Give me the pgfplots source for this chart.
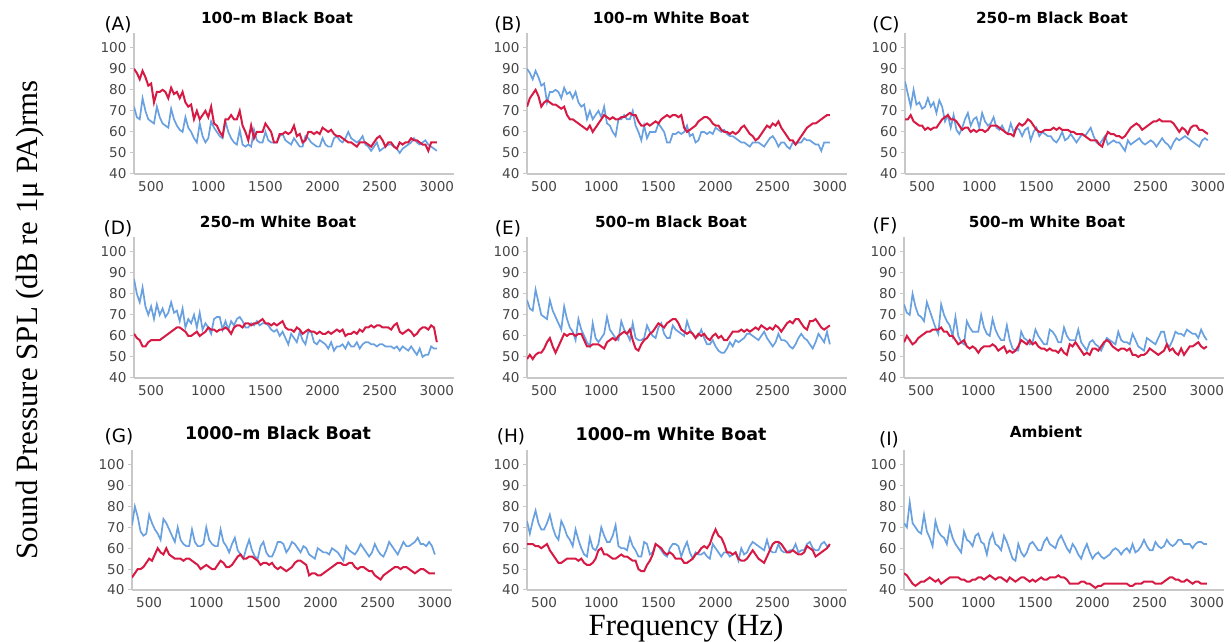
\documentclass[border=0pt]{standalone}
\usepackage{fontspec}
\setmainfont{Liberation Serif}
\newfontfamily\dejavu{DejaVu Sans}
\usepackage{pgfplots}
\usepackage{pgfplotstable}
\pgfplotsset{compat=1.18}

\definecolor{lineBlue}{RGB}{104,160,224}
\definecolor{lineRed}{RGB}{214,26,68}
\definecolor{axisGray}{RGB}{200,200,200}
\definecolor{labelGray}{RGB}{70,70,70}

\newcommand{\ttl}{\dejavu\bfseries\fontsize{15.3}{16}\selectfont}
\newcommand{\ttlbig}{\dejavu\bfseries\fontsize{17.5}{18}\selectfont}
\newcommand{\plab}{\dejavu\fontsize{18.5}{19}\selectfont}

\pgfplotsset{
    panel/.style={
        scale only axis, width=320bp, height=141bp, anchor=south west,
        xmin=350, xmax=3150, ymin=40, ymax=107,
        axis x line=bottom, axis y line=left,
        axis line style={draw=axisGray, line width=1.3bp, -},
        xtick={500,1000,1500,2000,2500,3000},
        ytick={40,50,60,70,80,90,100},
        xtick style={draw=none},
        ytick style={draw=axisGray, line width=1bp},
        major tick length=4bp, tick align=outside,
        tick label style={font=\dejavu\fontsize{13.6}{14}\selectfont, text=labelGray},
        /pgf/number format/assume math mode=true,
        /pgf/number format/1000 sep={},
        scaled ticks=false,
    },
    blueline/.style={lineBlue, line width=1.7bp},
    redline/.style={lineRed, line width=2bp},
}

% panel A: 100-m black boat
\pgfplotstableread{
f b r
350 72 90
375 67 88
400 66 85
425 76 89
450 70 86
475 66 82
500 65 83
525 64 74
550 72 79
575 67 79
600 64 80
625 63 79
650 62 76
675 71 81
700 66 78
725 63 79
750 61 76
775 60 79
800 67 74
825 62 72
850 60 73
875 57 66
900 55 70
925 64 66
950 58 68
975 55 70
1000 57 67
1025 65 72
1050 62 64
1075 60 63
1100 58 60
1125 57 58
1150 65 66
1175 60 66
1200 57 68
1225 55 66
1250 54 66
1275 61 70
1300 54 63
1325 53 60
1350 54 56
1375 53 63
1400 61 57
1425 56 60
1450 55 60
1475 55 60
1500 60 64
1525 56 62
1550 55 60
1575 55 55
1600 55 55
1625 58 59
1650 59 59
1675 56 60
1700 55 59
1725 54 60
1750 57 63
1775 55 58
1800 53 59
1825 53 55
1850 58 56
1875 57 60
1900 55 60
1925 54 59
1950 53 60
1975 53 59
2000 57 62
2025 54 61
2050 53 60
2075 53 61
2100 57 59
2125 58 58
2150 56 58
2175 55 57
2200 57 56
2225 60 55
2250 57 55
2275 56 54
2300 55 53
2325 56 55
2350 58 55
2375 54 55
2400 53 54
2425 51 53
2450 53 55
2475 55 57
2500 51 58
2525 52 56
2550 53 53
2575 54 55
2600 54 55
2625 53 53
2650 52 52
2675 50 55
2700 52 54
2725 53 55
2750 54 55
2775 55 57
2800 57 56
2825 55 56
2850 54 55
2875 55 54
2900 56 54
2925 54 51
2950 53 55
2975 52 55
3000 51 55
}\tA

% panel B: 100-m white boat
\pgfplotstableread{
f b r
350 90 72
375 88 76
400 85 78
425 89 80
450 86 77
475 82 72
500 83 74
525 74 75
550 79 74
575 79 73
600 80 73
625 79 72
650 76 71
675 81 72
700 78 68
725 79 66
750 76 66
775 79 65
800 74 64
825 72 63
850 73 62
875 66 61
900 70 63
925 66 60
950 68 62
975 70 64
1000 67 66
1025 72 68
1050 64 67
1075 63 66
1100 60 67
1125 58 66
1150 66 66
1175 66 67
1200 68 67
1225 66 68
1250 66 69
1275 70 68
1300 63 68
1325 60 65
1350 56 63
1375 63 63
1400 57 64
1425 60 63
1450 60 64
1475 60 65
1500 64 64
1525 62 66
1550 60 67
1575 55 68
1600 55 67
1625 59 68
1650 59 68
1675 60 67
1700 59 68
1725 60 62
1750 63 60
1775 58 61
1800 59 62
1825 55 63
1850 56 65
1875 60 66
1900 60 67
1925 59 67
1950 60 66
1975 59 64
2000 62 63
2025 61 63
2050 60 61
2075 61 60
2100 59 60
2125 58 59
2150 58 60
2175 57 59
2200 56 60
2225 55 62
2250 55 63
2275 54 61
2300 53 59
2325 55 58
2350 55 56
2375 55 57
2400 54 59
2425 53 61
2450 55 63
2475 57 62
2500 58 64
2525 56 63
2550 53 65
2575 55 62
2600 55 60
2625 53 58
2650 52 56
2675 55 56
2700 54 54
2725 55 56
2750 55 58
2775 57 60
2800 56 62
2825 56 63
2850 55 64
2875 54 64
2900 54 65
2925 51 66
2950 55 67
2975 55 68
3000 55 68
}\tB

% panel C: 250-m black boat
\pgfplotstableread{
f b r
350 84 66
375 78 66
400 72 68
425 80 65
450 73 64
475 74 63
500 71 63
525 72 61
550 76 62
575 72 61
600 74 62
625 69 62
650 75 64
675 72 66
700 65 67
725 68 68
750 62 66
775 68 66
800 61 65
825 59 63
850 62 61
875 66 62
900 69 62
925 63 60
950 66 61
975 67 60
1000 62 61
1025 69 61
1050 65 60
1075 63 61
1100 64 63
1125 67 63
1150 62 63
1175 61 62
1200 63 61
1225 60 60
1250 59 59
1275 64 59
1300 60 58
1325 62 62
1350 61 64
1375 58 63
1400 61 64
1425 62 66
1450 56 65
1475 60 63
1500 62 61
1525 58 60
1550 60 60
1575 59 61
1600 58 61
1625 58 61
1650 56 62
1675 55 61
1700 57 62
1725 60 61
1750 56 61
1775 57 61
1800 59 60
1825 57 60
1850 55 59
1875 57 59
1900 59 59
1925 58 58
1950 60 57
1975 62 56
2000 58 56
2025 55 56
2050 54 54
2075 56 53
2100 58 57
2125 54 60
2150 55 59
2175 56 59
2200 55 58
2225 55 58
2250 53 57
2275 51 58
2300 56 60
2325 54 62
2350 55 63
2375 56 64
2400 57 63
2425 55 61
2450 54 62
2475 55 63
2500 56 64
2525 55 65
2550 53 65
2575 55 66
2600 57 65
2625 55 65
2650 54 65
2675 52 65
2700 55 64
2725 57 62
2750 56 60
2775 57 62
2800 58 61
2825 57 59
2850 56 62
2875 55 63
2900 54 63
2925 53 61
2950 56 61
2975 57 60
3000 56 59
}\tC

% panel D: 250-m white boat
\pgfplotstableread{
f b r
350 87 61
375 80 59
400 76 58
425 83 55
450 74 55
475 70 57
500 74 58
525 68 58
550 75 58
575 70 58
600 73 59
625 69 60
650 71 61
675 76 62
700 71 63
725 72 64
750 67 64
775 73 63
800 64 62
825 68 60
850 66 60
875 70 61
900 64 62
925 71 60
950 63 61
975 66 62
1000 64 64
1025 61 63
1050 68 63
1075 69 62
1100 69 63
1125 63 63
1150 67 64
1175 63 63
1200 67 61
1225 65 64
1250 68 65
1275 69 65
1300 67 64
1325 64 66
1350 64 66
1375 66 65
1400 65 66
1425 67 66
1450 65 67
1475 66 68
1500 66 66
1525 65 66
1550 63 65
1575 62 66
1600 63 65
1625 60 66
1650 62 67
1675 59 64
1700 56 63
1725 61 63
1750 59 62
1775 57 64
1800 62 63
1825 58 61
1850 56 62
1875 62 63
1900 62 62
1925 57 62
1950 56 61
1975 58 62
2000 57 61
2025 56 61
2050 54 62
2075 57 61
2100 53 62
2125 55 63
2150 55 62
2175 56 63
2200 54 60
2225 57 61
2250 55 61
2275 55 62
2300 57 61
2325 54 63
2350 56 62
2375 57 64
2400 57 64
2425 56 65
2450 56 64
2475 55 65
2500 56 65
2525 56 64
2550 55 64
2575 55 64
2600 55 63
2625 54 65
2650 55 66
2675 53 62
2700 55 61
2725 54 62
2750 53 63
2775 55 62
2800 53 60
2825 51 61
2850 54 63
2875 50 64
2900 51 64
2925 51 63
2950 55 65
2975 54 64
3000 54 57
}\tD

% panel E: 500-m black boat
\pgfplotstableread{
f b r
350 77 49
375 73 51
400 72 49
425 82 51
450 76 52
475 70 52
500 69 54
525 68 57
550 77 59
575 72 55
600 69 52
625 66 55
650 63 58
675 74 61
700 68 60
725 64 61
750 62 61
775 58 60
800 68 61
825 63 61
850 60 58
875 57 55
900 55 55
925 66 56
950 59 56
975 57 56
1000 59 55
1025 61 54
1050 69 57
1075 63 58
1100 61 59
1125 59 58
1150 58 60
1175 67 61
1200 63 62
1225 61 61
1250 58 63
1275 66 58
1300 59 54
1325 58 53
1350 58 56
1375 59 58
1400 65 59
1425 62 61
1450 60 62
1475 59 64
1500 64 66
1525 66 65
1550 61 64
1575 59 66
1600 59 67
1625 65 68
1650 63 68
1675 62 66
1700 61 63
1725 60 62
1750 67 61
1775 63 62
1800 61 61
1825 59 59
1850 60 61
1875 63 60
1900 59 61
1925 56 59
1950 56 58
1975 58 60
2000 55 61
2025 53 59
2050 52 60
2075 52 58
2100 54 58
2125 57 60
2150 55 62
2175 58 62
2200 57 62
2225 58 63
2250 59 62
2275 61 63
2300 61 62
2325 60 63
2350 59 64
2375 58 63
2400 60 65
2425 62 64
2450 59 63
2475 57 64
2500 55 63
2525 57 65
2550 61 64
2575 58 62
2600 58 64
2625 57 66
2650 55 67
2675 54 66
2700 56 68
2725 59 68
2750 61 66
2775 59 64
2800 58 63
2825 56 67
2850 54 67
2875 57 68
2900 61 66
2925 59 64
2950 57 63
2975 62 64
3000 56 65
}\tE

% panel F: 500-m white boat
\pgfplotstableread{
f b r
350 75 57
375 71 60
400 70 58
425 80 56
450 74 57
475 70 59
500 69 60
525 67 61
550 76 62
575 72 62
600 68 63
625 64 63
650 61 63
675 75 64
700 70 62
725 67 62
750 65 60
775 60 60
800 69 58
825 60 56
850 57 57
875 56 58
900 67 55
925 64 54
950 62 55
975 62 54
1000 62 52
1025 70 54
1050 64 55
1075 61 55
1100 60 55
1125 68 56
1150 63 55
1175 60 53
1200 58 54
1225 58 55
1250 65 52
1275 58 53
1300 54 52
1325 53 53
1350 53 55
1375 62 58
1400 59 57
1425 58 56
1450 56 58
1475 57 56
1500 63 57
1525 60 55
1550 58 54
1575 56 54
1600 56 53
1625 63 54
1650 62 53
1675 60 53
1700 57 52
1725 57 54
1750 64 52
1775 60 51
1800 58 56
1825 58 55
1850 58 57
1875 63 55
1900 57 53
1925 55 51
1950 53 52
1975 57 51
2000 58 54
2025 56 54
2050 55 53
2075 53 55
2100 56 57
2125 59 58
2150 58 57
2175 57 55
2200 56 54
2225 62 53
2250 58 54
2275 57 54
2300 57 53
2325 56 54
2350 61 51
2375 58 51
2400 55 50
2425 54 51
2450 53 51
2475 59 52
2500 58 54
2525 57 53
2550 56 52
2575 59 51
2600 62 52
2625 62 53
2650 56 56
2675 55 53
2700 58 54
2725 62 52
2750 61 51
2775 61 54
2800 60 51
2825 63 53
2850 62 55
2875 61 55
2900 61 56
2925 59 57
2950 63 55
2975 60 54
3000 58 55
}\tF

% panel G: 1000-m black boat
\pgfplotstableread{
f b r
350 71 46
375 80 48
400 75 50
425 68 50
450 66 51
475 67 53
500 76 55
525 72 54
550 69 57
575 67 60
600 64 58
625 74 57
650 72 60
675 69 57
700 66 56
725 63 55
750 70 55
775 64 55
800 62 54
825 61 55
850 61 55
875 69 54
900 63 53
925 61 52
950 61 50
975 62 51
1000 70 52
1025 64 51
1050 62 50
1075 61 50
1100 61 52
1125 69 54
1150 63 53
1175 61 51
1200 58 51
1225 62 52
1250 65 54
1275 59 56
1300 57 57
1325 55 55
1350 60 55
1375 64 56
1400 59 56
1425 56 55
1450 55 54
1475 61 52
1500 63 53
1525 58 53
1550 56 52
1575 56 53
1600 59 51
1625 63 50
1650 63 51
1675 62 50
1700 58 49
1725 60 50
1750 63 51
1775 62 53
1800 60 54
1825 58 54
1850 61 53
1875 60 52
1900 57 47
1925 56 48
1950 55 48
1975 60 47
2000 59 47
2025 58 48
2050 58 49
2075 57 50
2100 60 51
2125 59 52
2150 58 53
2175 56 53
2200 54 52
2225 61 52
2250 59 53
2275 58 53
2300 57 51
2325 59 50
2350 62 51
2375 60 51
2400 58 50
2425 56 49
2450 58 49
2475 62 47
2500 59 46
2525 57 45
2550 56 47
2575 59 48
2600 63 49
2625 61 50
2650 59 51
2675 57 51
2700 60 50
2725 63 51
2750 61 51
2775 61 50
2800 62 49
2825 63 48
2850 65 49
2875 62 50
2900 62 50
2925 61 49
2950 63 48
2975 61 48
3000 57 48
}\tG

% panel H: 1000-m white boat
\pgfplotstableread{
f b r
350 73 62
375 67 62
400 73 62
425 78 61
450 72 61
475 69 60
500 69 61
525 72 62
550 76 59
575 70 57
600 66 55
625 64 53
650 73 53
675 70 54
700 66 55
725 64 55
750 61 55
775 69 55
800 64 54
825 60 55
850 57 53
875 56 52
900 65 52
925 60 53
950 59 55
975 62 59
1000 70 60
1025 66 57
1050 63 57
1075 63 56
1100 66 55
1125 71 55
1150 61 56
1175 60 57
1200 60 56
1225 59 56
1250 65 55
1275 61 54
1300 59 54
1325 56 50
1350 56 49
1375 63 49
1400 62 52
1425 57 54
1450 58 57
1475 62 62
1500 61 61
1525 59 60
1550 57 58
1575 56 57
1600 60 58
1625 62 57
1650 62 55
1675 61 55
1700 56 55
1725 60 53
1750 63 53
1775 58 54
1800 55 55
1825 58 57
1850 57 58
1875 57 60
1900 58 61
1925 56 60
1950 55 62
1975 62 66
2000 60 69
2025 58 66
2050 56 65
2075 58 62
2100 58 58
2125 56 58
2150 57 57
2175 58 58
2200 54 55
2225 60 54
2250 57 54
2275 58 55
2300 61 57
2325 63 59
2350 62 57
2375 61 55
2400 60 54
2425 59 53
2450 64 56
2475 59 59
2500 58 62
2525 58 63
2550 62 63
2575 59 62
2600 58 60
2625 58 58
2650 59 58
2675 59 59
2700 62 58
2725 58 57
2750 59 57
2775 59 58
2800 62 61
2825 63 60
2850 60 59
2875 59 56
2900 59 57
2925 62 58
2950 63 59
2975 61 60
3000 61 62
}\tH

% panel I: ambient
\pgfplotstableread{
f b r
350 72 48
375 70 47
400 82 45
425 72 43
450 70 42
475 68 43
500 67 44
525 76 44
550 68 45
575 65 46
600 61 45
625 73 44
650 68 45
675 66 43
700 65 44
725 62 45
750 70 46
775 65 46
800 62 46
825 60 46
850 58 45
875 68 45
900 64 44
925 63 44
950 61 45
975 66 45
1000 67 46
1025 63 46
1050 62 45
1075 57 46
1100 64 47
1125 67 46
1150 62 45
1175 61 46
1200 59 46
1225 66 45
1250 63 44
1275 59 46
1300 55 45
1325 54 44
1350 62 45
1375 58 46
1400 56 46
1425 58 45
1450 62 44
1475 63 45
1500 61 44
1525 59 45
1550 59 46
1575 63 45
1600 65 45
1625 62 46
1650 61 46
1675 60 46
1700 64 47
1725 66 46
1750 63 46
1775 60 45
1800 58 43
1825 62 43
1850 60 43
1875 57 43
1900 55 44
1925 59 44
1950 62 43
1975 58 43
2000 55 42
2025 57 41
2050 58 42
2075 56 42
2100 55 43
2125 56 43
2150 57 43
2175 59 43
2200 60 43
2225 59 43
2250 57 43
2275 59 43
2300 60 43
2325 58 42
2350 62 42
2375 58 43
2400 59 43
2425 61 43
2450 64 44
2475 61 44
2500 59 44
2525 59 44
2550 63 43
2575 61 43
2600 60 43
2625 61 44
2650 64 45
2675 62 46
2700 61 46
2725 62 45
2750 64 45
2775 64 44
2800 62 44
2825 62 45
2850 62 44
2875 60 43
2900 62 44
2925 63 44
2950 63 43
2975 62 43
3000 62 43
}\tI

\begin{document}
\begin{tikzpicture}
    \path[use as bounding box] (0,0) rectangle (1231bp,642bp);

    % ---------------- row 1 ----------------
    \begin{axis}[panel, at={(134bp,468bp)}]
        \addplot[blueline] table[x=f, y=b] {\tA};
        \addplot[redline] table[x=f, y=r] {\tA};
    \end{axis}
    \begin{axis}[panel, at={(527bp,468bp)}]
        \addplot[blueline] table[x=f, y=b] {\tB};
        \addplot[redline] table[x=f, y=r] {\tB};
    \end{axis}
    \begin{axis}[panel, at={(905bp,468bp)}]
        \addplot[blueline] table[x=f, y=b] {\tC};
        \addplot[redline] table[x=f, y=r] {\tC};
    \end{axis}

    % ---------------- row 2 ----------------
    \begin{axis}[panel, at={(134bp,264bp)}]
        \addplot[blueline] table[x=f, y=b] {\tD};
        \addplot[redline] table[x=f, y=r] {\tD};
    \end{axis}
    \begin{axis}[panel, at={(527bp,264bp)}]
        \addplot[blueline] table[x=f, y=b] {\tE};
        \addplot[redline] table[x=f, y=r] {\tE};
    \end{axis}
    \begin{axis}[panel, at={(904bp,264bp)}]
        \addplot[blueline] table[x=f, y=b] {\tF};
        \addplot[redline] table[x=f, y=r] {\tF};
    \end{axis}

    % ---------------- row 3 ----------------
    \begin{axis}[panel, height=140bp, at={(132bp,52bp)}]
        \addplot[blueline] table[x=f, y=b] {\tG};
        \addplot[redline] table[x=f, y=r] {\tG};
    \end{axis}
    \begin{axis}[panel, height=140bp, at={(527bp,52bp)}]
        \addplot[blueline] table[x=f, y=b] {\tH};
        \addplot[redline] table[x=f, y=r] {\tH};
    \end{axis}
    \begin{axis}[panel, height=140bp, at={(904bp,52bp)}]
        \addplot[blueline] table[x=f, y=b] {\tI};
        \addplot[redline] table[x=f, y=r] {\tI};
    \end{axis}

    % panel titles
    \node[anchor=base, font=\ttl] at (277bp,618bp) {100–m Black Boat};
    \node[anchor=base, font=\ttl] at (671bp,618bp) {100–m White Boat};
    \node[anchor=base, font=\ttl] at (1052bp,618bp) {250–m Black Boat};
    \node[anchor=base, font=\ttl] at (278bp,414bp) {250–m White Boat};
    \node[anchor=base, font=\ttl] at (671bp,414bp) {500–m Black Boat};
    \node[anchor=base, font=\ttl] at (1047bp,414bp) {500–m White Boat};
    \node[anchor=base, font=\ttlbig] at (278bp,202bp) {1000–m Black Boat};
    \node[anchor=base, font=\ttlbig] at (671bp,201bp) {1000–m White Boat};
    \node[anchor=base, font=\ttl] at (1046bp,204bp) {Ambient};

    % panel letters
    \node[anchor=base, font=\plab] at (118bp,611bp) {(A)};
    \node[anchor=base, font=\plab] at (508bp,611bp) {(B)};
    \node[anchor=base, font=\plab] at (886bp,611bp) {(C)};
    \node[anchor=base, font=\plab] at (118bp,407bp) {(D)};
    \node[anchor=base, font=\plab] at (508bp,407bp) {(E)};
    \node[anchor=base, font=\plab] at (885bp,410bp) {(F)};
    \node[anchor=base, font=\plab] at (119bp,199bp) {(G)};
    \node[anchor=base, font=\plab] at (511bp,199bp) {(H)};
    \node[anchor=base, font=\plab] at (889bp,196bp) {(I)};

    % shared axis labels
    \node[rotate=90, anchor=center, font=\fontsize{31}{31}\selectfont] at (30bp,322bp)
        {Sound Pressure SPL (dB re 1μ PA)rms};
    \node[anchor=base, font=\fontsize{31}{31}\selectfont] at (686bp,7bp) {Frequency (Hz)};
\end{tikzpicture}
\end{document}
